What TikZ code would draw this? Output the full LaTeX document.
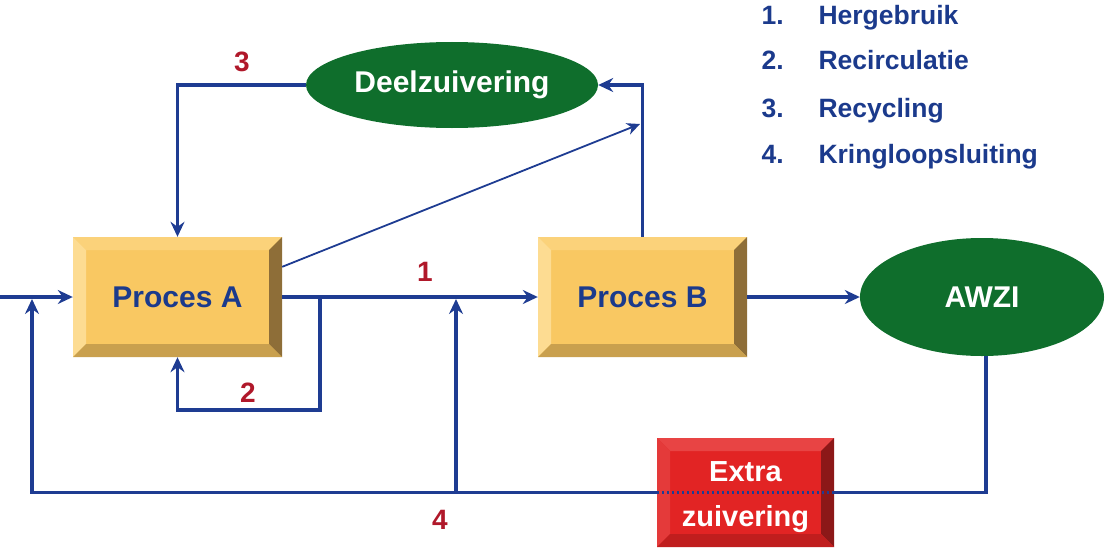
\documentclass[tikz,border=0pt]{standalone}
\usepackage{fontspec}
\setmainfont{Liberation Sans}
\usetikzlibrary{shapes.geometric,arrows.meta,calc}
\definecolor{navy}{HTML}{1B3A8C}
\definecolor{linec}{HTML}{1E3C92}
\definecolor{numred}{HTML}{B0182A}
\definecolor{dgreen}{HTML}{0F6E2C}
\definecolor{yface}{HTML}{F9C862}
\definecolor{ytop}{HTML}{FBD27A}
\definecolor{yleft}{HTML}{FDDC92}
\definecolor{yright}{HTML}{8E6E38}
\definecolor{ybottom}{HTML}{C9A04E}
\definecolor{rface}{HTML}{E22424}
\definecolor{rtop}{HTML}{E84444}
\definecolor{rleft}{HTML}{E43A3A}
\definecolor{rright}{HTML}{8C1818}
\definecolor{rbottom}{HTML}{C01E1E}
\tikzset{
  bevelbox/.style n args={4}{rectangle, inner sep=0pt, path picture={
    \fill[#1] (path picture bounding box.north west) -- (path picture bounding box.north east)
      -- ([shift={(-13pt,-13pt)}]path picture bounding box.north east)
      -- ([shift={(13pt,-13pt)}]path picture bounding box.north west) -- cycle;
    \fill[#2] (path picture bounding box.north west) -- (path picture bounding box.south west)
      -- ([shift={(13pt,13pt)}]path picture bounding box.south west)
      -- ([shift={(13pt,-13pt)}]path picture bounding box.north west) -- cycle;
    \fill[#3] (path picture bounding box.north east) -- (path picture bounding box.south east)
      -- ([shift={(-13pt,13pt)}]path picture bounding box.south east)
      -- ([shift={(-13pt,-13pt)}]path picture bounding box.north east) -- cycle;
    \fill[#4] (path picture bounding box.south west) -- (path picture bounding box.south east)
      -- ([shift={(-13pt,13pt)}]path picture bounding box.south east)
      -- ([shift={(13pt,13pt)}]path picture bounding box.south west) -- cycle;
  }},
  procbox/.style={bevelbox={ytop}{yleft}{yright}{ybottom}, fill=yface, minimum width=209pt, minimum height=120pt,
    text=navy, font=\fontsize{30}{32}\selectfont\bfseries},
  extrabox/.style={bevelbox={rtop}{rleft}{rright}{rbottom}, fill=rface, minimum width=177pt, minimum height=109pt},
  extratext/.style={text=white, align=center, font=\fontsize{29}{45}\selectfont\bfseries},
  greenell/.style={ellipse, fill=dgreen, inner sep=0pt, text=white, font=\fontsize{30}{32}\selectfont\bfseries},
  wire/.style={draw=linec, line width=3.4pt},
  flow/.style={wire, -{Stealth[length=15pt,width=14pt,inset=5pt]}},
  thinflow/.style={draw=linec, line width=1.8pt, -{Stealth[length=13pt,width=12pt,inset=4pt]}},
  numlbl/.style={text=numred, font=\fontsize{28}{30}\selectfont\bfseries},
  legnum/.style={anchor=base west, text=navy, font=\fontsize{26.5}{28}\selectfont\bfseries},
}
\begin{document}
\begin{tikzpicture}[x=1pt,y=-1pt]
\useasboundingbox (0,0) rectangle (1107,551);

% nodes
\node[procbox] (PA) at (177.5,297) {Proces A};
\node[procbox] (PB) at (642.5,297) {Proces B};
\node[greenell, minimum width=292pt, minimum height=86pt] (DZ) at (452,85) {Deelzuivering};
\node[greenell, minimum width=244pt, minimum height=118pt] (AW) at (982,297) {AWZI};
\node[extrabox] (EX) at (745.5,492.5) {};
\node[extratext] (EXT) at (745.5,497) {Extra\\zuivering};

% coordinates
\coordinate (in) at (0,297);
\coordinate (j2) at (320,297);
\coordinate (c2) at (320,410);
\coordinate (diagend) at (640,124);
\coordinate (bl) at (32,492.5);
\coordinate (jb) at (456,492.5);
\coordinate (jt) at (456,299);
\coordinate (lt) at (32,299);
\coordinate (br) at (986,492.5);

% connectors
\draw[flow] (in) -- (PA.west);
\draw[flow] (PA.east) -- (PB.west);
\draw[flow] (j2) -- (c2) -| (PA.south);
\draw[flow] (DZ.west) -| (PA.north);
\draw[flow] (PB.north) |- (DZ.east);
\draw[thinflow] ($(PA.north east)+(0,30)$) -- (diagend);
\draw[flow] (PB.east) -- (AW.west);
\draw[wire] (AW.south -| br) -- (br) -- (EX.east);
\draw[flow] (EX.west) -- (bl) -- (lt);
\draw[flow] (jb) -- (jt);
\draw[draw=linec, line width=3pt, dash pattern=on 2.5pt off 2.5pt] (EX.east) -- (EX.west);

% labels
\node[numlbl] (n3) at (242,62) {3};
\node[numlbl] (n1) at (425,272) {1};
\node[numlbl] (n2) at (248,393) {2};
\node[numlbl] (n4) at (440,520) {4};

% legend
\node[legnum] (l1n) at (758,25) {1.};
\node[legnum] (l1t) at (815,25) {Hergebruik};
\node[legnum] (l2n) at (758,70) {2.};
\node[legnum] (l2t) at (815,70) {Recirculatie};
\node[legnum] (l3n) at (758,117) {3.};
\node[legnum] (l3t) at (815,117) {Recycling};
\node[legnum] (l4n) at (758,163) {4.};
\node[legnum] (l4t) at (815,163) {Kringloopsluiting};
\end{tikzpicture}
\end{document}
